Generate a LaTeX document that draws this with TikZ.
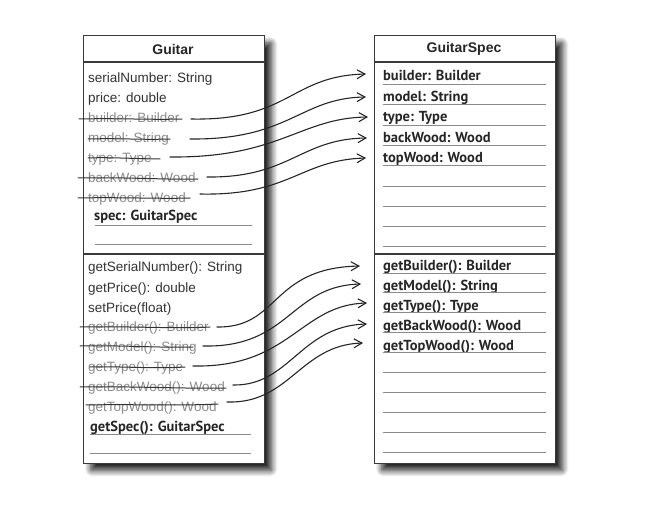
\documentclass[tikz,border=0pt]{standalone}
\usepackage{fontspec}
\setmainfont{Liberation Sans}
\newfontfamily\handfont{PT Sans}
\usetikzlibrary{arrows.meta,shadows.blur}
\definecolor{boxline}{HTML}{3A3A3A}
\definecolor{strucktext}{HTML}{8C8C8C}
\definecolor{rulegray}{HTML}{8A8A8A}
\tikzset{
  classbox/.style={draw=boxline,line width=1.3pt,fill=white,
    blur shadow={shadow xshift=7pt,shadow yshift=-7pt,shadow opacity=85,shadow blur radius=6pt,shadow blur steps=10,shadow blur extra rounding=1pt}},
  divline/.style={draw=boxline,line width=1.3pt},
  title/.style={font=\bfseries\fontsize{14}{16}\selectfont,anchor=center,text=black!85},
  attr/.style={font=\fontsize{13.5}{15}\selectfont,anchor=base west,inner sep=0pt,text=black!80},
  struck/.style={attr,text=strucktext},
  hand/.style={font=\handfont\bfseries\fontsize{14.5}{16}\selectfont,anchor=base west,inner sep=0pt,text=black!85},
  rowrule/.style={draw=rulegray,line width=0.8pt},
  strikeline/.style={draw=black!80,line width=1pt,line cap=round},
  handarrow/.style={draw=black!85,line width=1.1pt,line cap=round,-{Straight Barb[length=8pt,width=9pt,line width=1.1pt]}}
}
\begin{document}
\begin{tikzpicture}[x=1pt,y=-1pt]
\useasboundingbox (0,0) rectangle (672,513);
% boxes
\node[classbox,minimum width=181pt,minimum height=428pt,anchor=north west,inner sep=0pt] (g) at (83,35) {};
\node[classbox,minimum width=181pt,minimum height=428pt,anchor=north west,inner sep=0pt] (s) at (374,35) {};
\draw[divline] (83,62) -- (264,62);
\draw[divline] (83,254) -- (264,254);
\draw[divline] (374,62) -- (555,62);
\draw[divline] (374,254) -- (555,254);
\node[title] (gt) at (173,49) {Guitar};
\node[title] (st) at (464,49) {GuitarSpec};
% Guitar attributes
\node[attr] (g1) at (88,83) {serialNumber: String};
\node[attr] (g2) at (88,103) {price: double};
\node[struck] (g3) at (88,123) {builder: Builder};
\node[struck] (g4) at (88,143) {model: String};
\node[struck] (g5) at (88,163) {type: Type};
\node[struck] (g6) at (88,183) {backWood: Wood};
\node[struck] (g7) at (88,203) {topWood: Wood};
\node[hand] (g8) at (94,221) {spec: GuitarSpec};
\draw[rowrule] (95,225) -- (252,225);
\draw[rowrule] (95,244) -- (252,244);
% strikes
\draw[strikeline] (79,119) .. controls (120,118) and (150,120) .. (182,119);
\draw[strikeline] (88,139) .. controls (120,138) and (140,140) .. (170,139);
\draw[strikeline] (88,158) .. controls (110,157) and (140,159) .. (160,159);
\draw[strikeline] (78,178) .. controls (130,177) and (170,180) .. (198,179);
\draw[strikeline] (78,198) .. controls (120,197) and (160,199) .. (190,198);
% Guitar methods
\node[attr] (m1) at (88,272) {getSerialNumber(): String};
\node[attr] (m2) at (88,292) {getPrice(): double};
\node[attr] (m3) at (88,312) {setPrice(float)};
\node[struck] (m4) at (88,331) {getBuilder(): Builder};
\node[struck] (m5) at (88,351) {getModel(): String};
\node[struck] (m6) at (88,371) {getType(): Type};
\node[struck] (m7) at (88,391) {getBackWood(): Wood};
\node[struck] (m8) at (88,411) {getTopWood(): Wood};
\node[hand] (m9) at (90,431) {getSpec(): GuitarSpec};
\draw[rowrule] (90,434) -- (251,434);
\draw[rowrule] (90,453) -- (251,453);
\draw[strikeline] (80,327) .. controls (130,326) and (180,329) .. (210,327);
\draw[strikeline] (80,346) .. controls (120,345) and (160,348) .. (193,347);
\draw[strikeline] (90,367) .. controls (120,366) and (150,369) .. (185,367);
\draw[strikeline] (80,387) .. controls (130,386) and (190,389) .. (226,388);
\draw[strikeline] (86,405) .. controls (130,404) and (180,406) .. (218,404);
% GuitarSpec attributes
\node[hand] (s1) at (383,81) {builder: Builder};
\node[hand] (s2) at (383,102) {model: String};
\node[hand] (s3) at (383,122) {type: Type};
\node[hand] (s4) at (383,143) {backWood: Wood};
\node[hand] (s5) at (383,163) {topWood: Wood};
\foreach \yy in {84,104,125,145,165,186,206,226,246}
  \draw[rowrule] (383,\yy) -- (546,\yy);
\node[hand] (t1) at (383,270) {getBuilder(): Builder};
\node[hand] (t2) at (383,290) {getModel(): String};
\node[hand] (t3) at (383,310) {getType(): Type};
\node[hand] (t4) at (383,330) {getBackWood(): Wood};
\node[hand] (t5) at (383,350) {getTopWood(): Wood};
\foreach \yy in {273,292,312,332,352,372,392,412,432,452}
  \draw[rowrule] (383,\yy) -- (546,\yy);
% arrow start coordinates
\coordinate (a1) at (191,119);
\coordinate (a2) at (190,139);
\coordinate (a3) at (170,157);
\coordinate (a4) at (207,177);
\coordinate (a5) at (200,194);
\coordinate (b1) at (366,74);
\coordinate (b2) at (366,97);
\coordinate (b3) at (368,117);
\coordinate (b4) at (367,138);
\coordinate (b5) at (366,158);
\draw[handarrow] (a1) .. controls (290,121) and (290,76) .. (b1);
\draw[handarrow] (a2) .. controls (290,140) and (300,98) .. (b2);
\draw[handarrow] (a3) .. controls (280,158) and (300,118) .. (b3);
\draw[handarrow] (a4) .. controls (290,178) and (300,139) .. (b4);
\draw[handarrow] (a5) .. controls (290,196) and (300,160) .. (b5);
\coordinate (c1) at (217,327);
\coordinate (c2) at (203,346);
\coordinate (c3) at (193,366);
\coordinate (c4) at (233,385);
\coordinate (c5) at (227,402);
\coordinate (d1) at (360,266);
\coordinate (d2) at (361,284);
\coordinate (d3) at (367,303);
\coordinate (d4) at (367,324);
\coordinate (d5) at (363,343);
\draw[handarrow] (c1) .. controls (280,328) and (270,268) .. (d1);
\draw[handarrow] (c2) .. controls (290,348) and (290,286) .. (d2);
\draw[handarrow] (c3) .. controls (290,368) and (300,305) .. (d3);
\draw[handarrow] (c4) .. controls (290,386) and (300,326) .. (d4);
\draw[handarrow] (c5) .. controls (290,404) and (300,345) .. (d5);
\end{tikzpicture}
\end{document}
